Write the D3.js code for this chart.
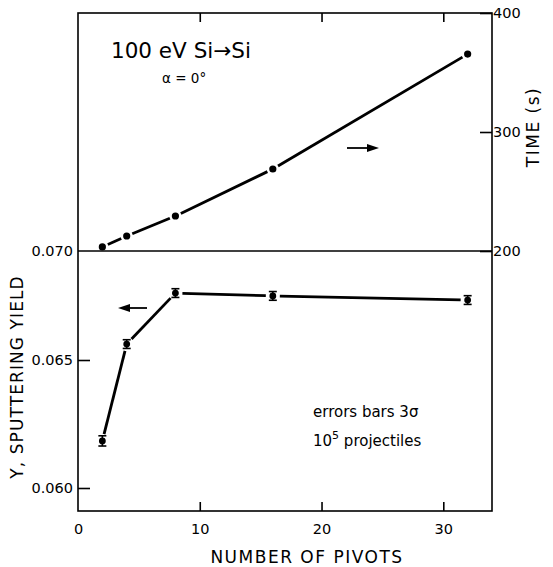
<!DOCTYPE html>
<html><head><meta charset="utf-8">
<script src="https://cdn.jsdelivr.net/npm/d3@7"></script>
<style>body{margin:0;background:#fff}svg{display:block}text{font-family:"DejaVu Sans",sans-serif;fill:#000}</style>
</head><body>
<script>
// ---- data ----
const pivots = [2, 4, 8, 16, 32];
const timeSec = [203.4, 212.6, 229.4, 268.9, 365.5];
const yieldY = [0.06184, 0.06573, 0.06807, 0.06794, 0.06775];
const yieldErr = [0.0002, 0.0002, 0.0002, 0.0002, 0.0002];
const xTicks = [0, 10, 20, 30];
const xTickLabels = ["0", "10", "20", "30"];
const yieldTicks = [0.060, 0.065, 0.070];
const yieldTickLabels = ["0.060", "0.065", "0.070"];
const timeTicks = [200, 300, 400];
const timeTickLabels = ["200", "300", "400"];

const W = 553, H = 567;
const L = 78, R = 492, T = 13, MID = 251, B = 511;
const FONT = "DejaVu Sans, sans-serif";

const svg = d3.select("body").append("svg").attr("width", W).attr("height", H);

const x = d3.scaleLinear().domain([0, 34]).range([L, R]);
const yT = d3.scaleLinear().domain([200, 400]).range([MID, T]);
const yY = d3.scaleLinear().domain([0.060, 0.065, 0.070]).range([488, 360, MID]);

// frame
svg.append("rect").attr("x", L).attr("y", T).attr("width", R - L).attr("height", B - T)
  .attr("fill", "none").attr("stroke", "#000").attr("stroke-width", 1.6);
svg.append("line").attr("x1", L).attr("x2", R).attr("y1", MID).attr("y2", MID)
  .attr("stroke", "#000").attr("stroke-width", 1.6);

// x axis (bottom) inward ticks + labels
const xAxis = d3.axisBottom(x).tickValues(xTicks).tickSize(-9).tickPadding(13)
  .tickFormat((d, i) => xTickLabels[i]);
const gx = svg.append("g").attr("transform", `translate(0,${B})`).call(xAxis);
gx.select(".domain").remove();
gx.selectAll(".tick line").attr("stroke-width", 1.6);
gx.selectAll("text").attr("font-size", 14.5).attr("font-family", FONT);
gx.selectAll(".tick").filter(d => d === 0).select("line").remove();

// top border ticks inward
const gxt = svg.append("g").attr("transform", `translate(0,${T})`)
  .call(d3.axisTop(x).tickValues([10, 20, 30]).tickSize(-9).tickFormat(""));
gxt.select(".domain").remove();
gxt.selectAll(".tick line").attr("stroke-width", 1.6);

// left yield axis
const gyl = svg.append("g").attr("transform", `translate(${L},0)`)
  .call(d3.axisLeft(yY).tickValues(yieldTicks).tickSize(-12).tickPadding(5)
    .tickFormat((d, i) => yieldTickLabels[i]));
gyl.select(".domain").remove();
gyl.selectAll(".tick line").attr("stroke-width", 1.6);
gyl.selectAll(".tick").filter(d => d === 0.070).select("line").remove();
gyl.selectAll("text").attr("font-size", 14.5).attr("font-family", FONT);

// right time axis
const gyr = svg.append("g").attr("transform", `translate(${R},0)`)
  .call(d3.axisRight(yT).tickValues(timeTicks).tickSize(-12).tickPadding(1)
    .tickFormat((d, i) => timeTickLabels[i]));
gyr.select(".domain").remove();
gyr.selectAll(".tick line").attr("stroke-width", 1.6);
gyr.selectAll("text").attr("font-size", 14.5).attr("font-family", FONT);

// helper: segments with small gaps near markers
function gappedSegments(pts, gap) {
  const g = svg.append("g");
  for (let i = 0; i < pts.length - 1; i++) {
    const [x1, y1] = pts[i], [x2, y2] = pts[i + 1];
    const dx = x2 - x1, dy = y2 - y1, len = Math.hypot(dx, dy);
    const ux = dx / len, uy = dy / len;
    g.append("line")
      .attr("x1", x1 + ux * gap).attr("y1", y1 + uy * gap)
      .attr("x2", x2 - ux * gap).attr("y2", y2 - uy * gap)
      .attr("stroke", "#000").attr("stroke-width", 2.8);
  }
}

// time series (top)
const tPts = pivots.map((p, i) => [x(p), yT(timeSec[i])]);
gappedSegments(tPts, 6);
svg.append("g").selectAll("circle").data(tPts).join("circle")
  .attr("cx", d => d[0]).attr("cy", d => d[1]).attr("r", 3.6).attr("fill", "#000");

// yield series (bottom)
const yPts = pivots.map((p, i) => [x(p), yY(yieldY[i])]);
gappedSegments(yPts, 7);
const eg = svg.append("g");
pivots.forEach((p, i) => {
  const cx = x(p), y1 = yY(yieldY[i] - yieldErr[i]), y2 = yY(yieldY[i] + yieldErr[i]);
  eg.append("line").attr("x1", cx).attr("x2", cx).attr("y1", y1).attr("y2", y2).attr("stroke", "#000").attr("stroke-width", 1.6);
  eg.append("line").attr("x1", cx - 4).attr("x2", cx + 4).attr("y1", y1).attr("y2", y1).attr("stroke", "#000").attr("stroke-width", 1.6);
  eg.append("line").attr("x1", cx - 4).attr("x2", cx + 4).attr("y1", y2).attr("y2", y2).attr("stroke", "#000").attr("stroke-width", 1.6);
  eg.append("circle").attr("cx", cx).attr("cy", yY(yieldY[i])).attr("r", 3.4).attr("fill", "#000");
});

// arrows
function arrow(xFrom, xTo, yy) {
  const dir = Math.sign(xTo - xFrom);
  svg.append("line").attr("x1", xFrom).attr("x2", xTo - dir * 8).attr("y1", yy).attr("y2", yy)
    .attr("stroke", "#000").attr("stroke-width", 1.8);
  svg.append("path").attr("d", `M${xTo},${yy} L${xTo - dir * 12},${yy - 4} L${xTo - dir * 12},${yy + 4} Z`).attr("fill", "#000");
}
arrow(347, 379, 148);
arrow(147, 118, 308);

// annotations
svg.append("text").attr("x", 111).attr("y", 58).attr("font-size", 21.5).text("100 eV Si\u2192Si");
svg.append("text").attr("x", 162).attr("y", 83).attr("font-size", 13.5).text("\u03B1 = 0\u00B0");
svg.append("text").attr("x", 313).attr("y", 417).attr("font-size", 15).text("errors bars 3\u03C3");
const e2 = svg.append("text").attr("x", 313).attr("y", 446).attr("font-size", 15);
e2.append("tspan").text("10");
e2.append("tspan").attr("font-size", 11).attr("dy", -7).text("5");
e2.append("tspan").attr("dy", 7).text(" projectiles");

// axis titles
svg.append("text").attr("x", 307).attr("y", 563).attr("text-anchor", "middle").attr("font-size", 17)
  .attr("letter-spacing", 1.5).text("NUMBER OF PIVOTS");
svg.append("text").attr("transform", `translate(23,377) rotate(-90)`).attr("text-anchor", "middle")
  .attr("font-size", 17).attr("letter-spacing", 1.1).text("Y, SPUTTERING YIELD");
svg.append("text").attr("transform", `translate(539,127) rotate(-90)`).attr("text-anchor", "middle")
  .attr("font-size", 17).attr("letter-spacing", 1.5).text("TIME (s)");
</script>
</body></html>
